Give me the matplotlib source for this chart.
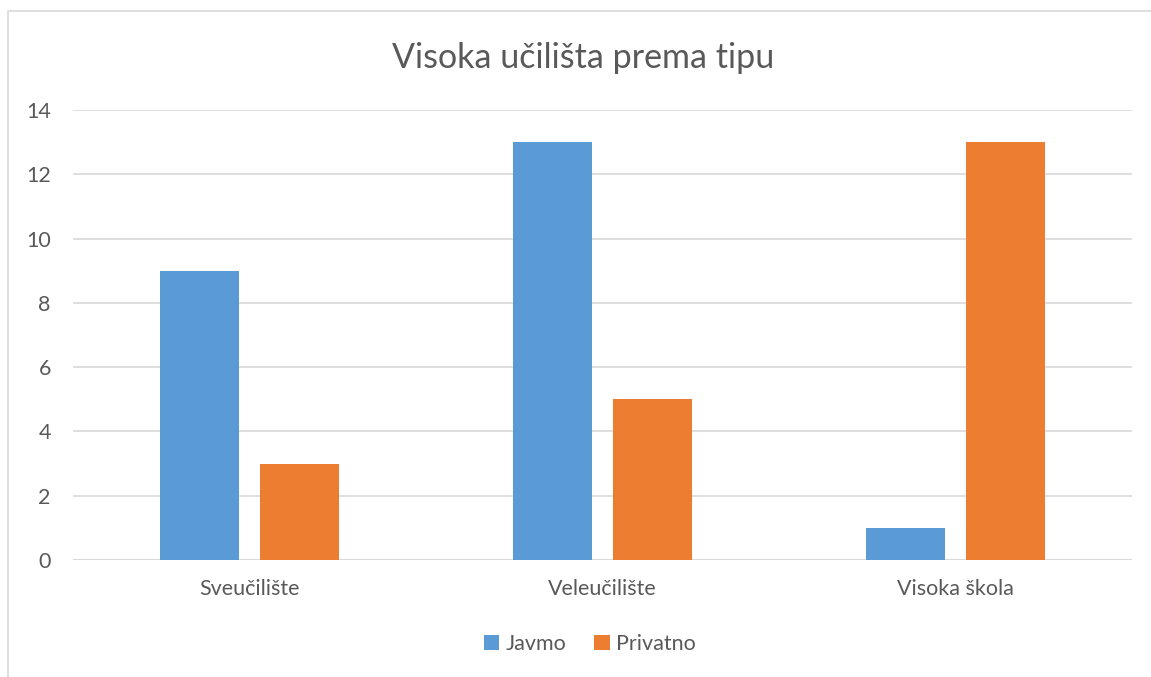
import matplotlib.pyplot as plt
from matplotlib.patches import Rectangle
import numpy as np

plt.rcParams['font.family'] = ['Lato', 'DejaVu Sans']

categories = ['Sveučilište', 'Veleučilište', 'Visoka škola']
javmo = [9, 13, 1]
privatno = [3, 5, 13]
yticks = [0, 2, 4, 6, 8, 10, 12, 14]

blue = '#5B9BD5'
orange = '#ED7D31'
txt = '#595959'
grid = '#D9D9D9'

fig = plt.figure(figsize=(11.51, 6.77), dpi=100)
# chart frame, only left and top edges fall inside the picture
fig.patches.append(Rectangle((8 / 1151, -0.1), 1.2, (677 - 11) / 677 + 0.1,
                             transform=fig.transFigure, fill=False,
                             edgecolor=grid, lw=1.2))

ax = fig.add_axes([73 / 1151, (677 - 560) / 677, (1132 - 73) / 1151, (560 - 110) / 677])
x = np.arange(len(categories))
w = 0.222
off = 0.142
ax.bar(x - off, javmo, w, color=blue, label='Javmo', zorder=3)
ax.bar(x + off, privatno, w, color=orange, label='Privatno', zorder=3)

ax.set_xlim(-0.5, 2.5)
ax.set_ylim(0, 14)
ax.set_yticks(yticks)
ax.set_xticks(x)
ax.set_xticklabels(categories)
ax.grid(axis='y', color=grid, lw=1.2, zorder=0)
for s in ax.spines.values():
    s.set_visible(False)
ax.tick_params(length=0, colors=txt, labelsize=15.5)
ax.tick_params(axis='y', pad=16)
ax.tick_params(axis='x', pad=14)
ax.axhline(0, color=grid, lw=1.5, zorder=2)

fig.text(0.507, 1 - 58 / 677, 'Visoka učilišta prema tipu', ha='center', va='center',
         fontsize=24.5, color=txt)

ax.legend(loc='center', bbox_to_anchor=(590 / 1151, 1 - 644 / 677),
          bbox_transform=fig.transFigure, ncol=2, frameon=False,
          fontsize=15.5, labelcolor=txt, handlelength=0.7, handleheight=0.7,
          handletextpad=0.3, columnspacing=1.3)

fig.savefig('out.png', dpi=100)
